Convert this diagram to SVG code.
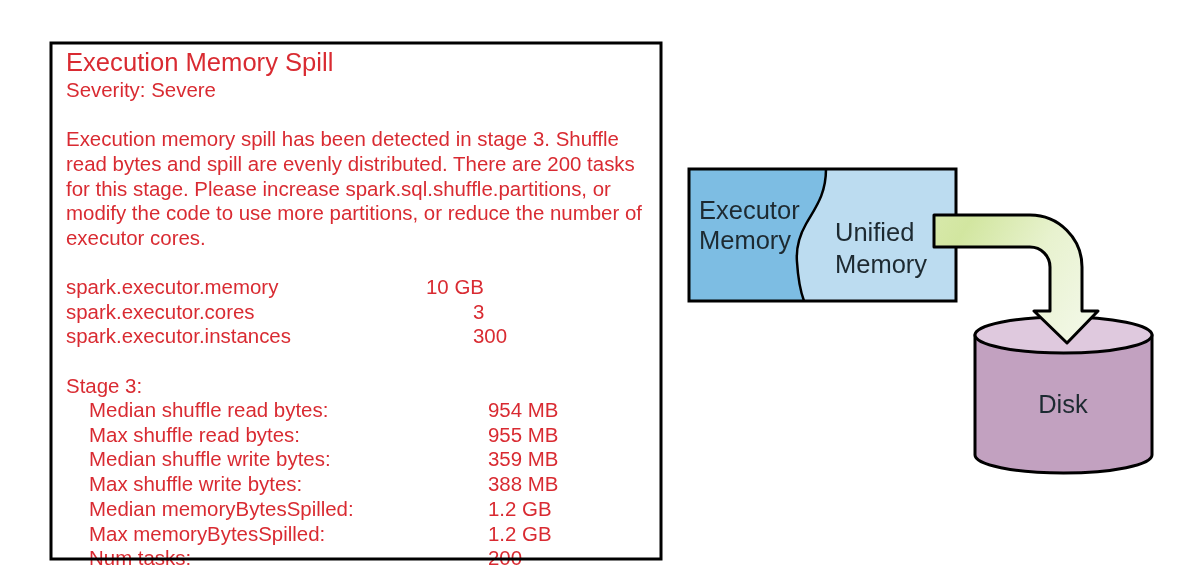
<svg xmlns="http://www.w3.org/2000/svg" width="1203" height="582" viewBox="0 0 1203 582">
<style>
text{font-family:"Liberation Sans",Arial,sans-serif}
.r{fill:#d92c32;font-size:20.45px}
.k{fill:#1f2a30;font-size:25.500px}
.o{stroke:#000;stroke-width:3;stroke-linejoin:round}
</style>
<defs>
<linearGradient id="g" gradientUnits="userSpaceOnUse" x1="934" y1="230" x2="1082" y2="320">
<stop offset="0" stop-color="#d6e8a8"/><stop offset="0.15" stop-color="#d2e6a0"/><stop offset="0.6" stop-color="#e8f2cf"/><stop offset="1" stop-color="#f1f7e4"/>
</linearGradient>
<filter id="soft" filterUnits="userSpaceOnUse" x="0" y="0" width="1203" height="582"><feGaussianBlur stdDeviation="0.45"/></filter>
</defs>
<rect width="1203" height="582" fill="#fff"/>
<g filter="url(#soft)">
<g id="report">
<g class="r">
<text x="66" y="71" style="font-size:25.6px">Execution Memory Spill</text>
<text x="66" y="97">Severity: Severe</text>
<text x="66" y="146">Execution memory spill has been detected in stage 3. Shuffle</text>
<text x="66" y="171">read bytes and spill are evenly distributed. There are 200 tasks</text>
<text x="66" y="196">for this stage. Please increase spark.sql.shuffle.partitions, or</text>
<text x="66" y="220">modify the code to use more partitions, or reduce the number of</text>
<text x="66" y="245">executor cores.</text>
<text x="66" y="294">spark.executor.memory</text><text x="426" y="294">10 GB</text>
<text x="66" y="319">spark.executor.cores</text><text x="473" y="319">3</text>
<text x="66" y="343">spark.executor.instances</text><text x="473" y="343">300</text>
<text x="66" y="393">Stage 3:</text>
<text x="89" y="417">Median shuffle read bytes:</text><text x="488" y="417">954 MB</text>
<text x="89" y="442">Max shuffle read bytes:</text><text x="488" y="442">955 MB</text>
<text x="89" y="466">Median shuffle write bytes:</text><text x="488" y="466">359 MB</text>
<text x="89" y="491">Max shuffle write bytes:</text><text x="488" y="491">388 MB</text>
<text x="89" y="516">Median memoryBytesSpilled:</text><text x="488" y="516">1.2 GB</text>
<text x="89" y="541">Max memoryBytesSpilled:</text><text x="488" y="541">1.2 GB</text>
<text x="89" y="565">Num tasks:</text><text x="488" y="565">200</text>
</g>
<rect x="51" y="43" width="610" height="516" fill="none" stroke="#000" stroke-width="3"/>
</g>
<g id="memory">
<rect x="689" y="169" width="267" height="132" fill="#bcdcf0"/>
<path d="M689 169H826C826 195 815 208 806 224C798 238 796 250 797 262C798 278 800 290 804 301H689Z" fill="#7dbde3"/>
<path d="M826 169C826 195 815 208 806 224C798 238 796 250 797 262C798 278 800 290 804 301" fill="none" stroke="#000" stroke-width="2.500"/>
<rect x="689" y="169" width="267" height="132" fill="none" stroke="#000" stroke-width="3"/>
<text class="k" x="699" y="219">Executor</text>
<text class="k" x="699" y="249">Memory</text>
<text class="k" x="835" y="241">Unified</text>
<text class="k" x="835" y="273">Memory</text>
</g>
<g id="disk">
<path class="o" d="M975 335V455A88.500 18 0 0 0 1152 455V335Z" fill="#c2a1c0"/>
<ellipse class="o" cx="1063.500" cy="335" rx="88.500" ry="18" fill="#dfc9de"/>
<text class="k" x="1063" y="413" text-anchor="middle">Disk</text>
</g>
<g id="connectors">
<path class="o" d="M934 215H1030A52 52 0 0 1 1082 267V311H1098L1067 343L1034 311H1050V267A20 20 0 0 0 1030 247H934Z" fill="url(#g)"/>
</g>
</g>
</svg>
